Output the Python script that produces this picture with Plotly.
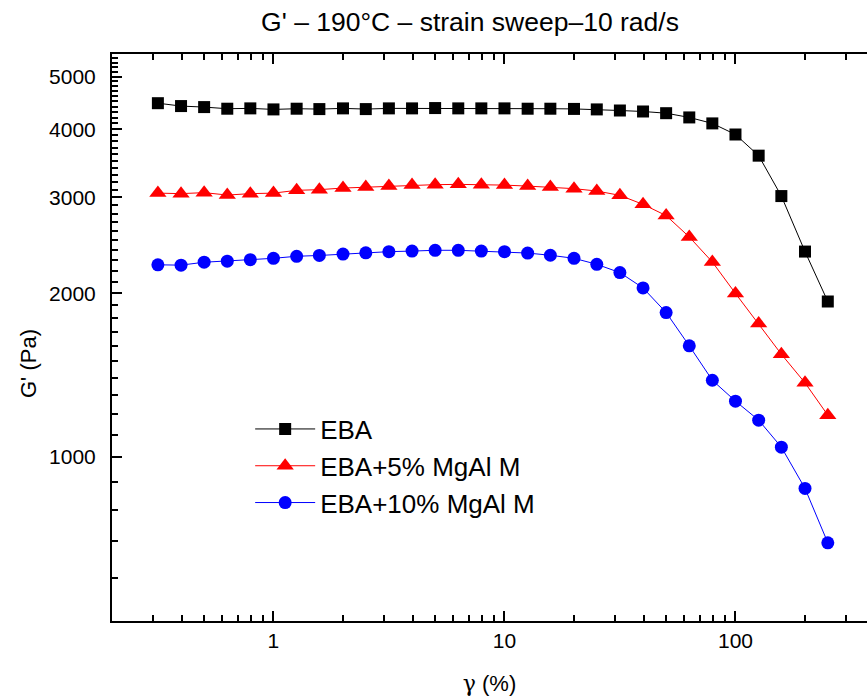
import math
import plotly.graph_objects as go

# strain amplitude (%)
strain = [0.316, 0.398, 0.501, 0.631, 0.794, 1.0, 1.26, 1.58, 2.0, 2.51,
          3.16, 3.98, 5.01, 6.31, 7.94, 10.0, 12.6, 15.8, 20.0, 25.1,
          31.6, 39.8, 50.1, 63.1, 79.4, 100.0, 126.0, 158.0, 200.0, 251.0]

# G' (Pa)
eba = [4467, 4413, 4394, 4364, 4370, 4351, 4364, 4357, 4370, 4357,
       4370, 4370, 4376, 4370, 4370, 4370, 4364, 4364, 4360, 4351,
       4331, 4313, 4282, 4206, 4101, 3913, 3578, 3016, 2385, 1931]
eba_5 = [3054, 3047, 3060, 3029, 3047, 3054, 3090, 3099, 3120, 3133,
         3146, 3159, 3165, 3169, 3165, 3159, 3146, 3133, 3112, 3081,
         3025, 2912, 2777, 2537, 2282, 1998, 1759, 1545, 1369, 1194]
eba_10 = [2255, 2252, 2280, 2290, 2305, 2318, 2338, 2346, 2360, 2372,
          2384, 2390, 2398, 2398, 2390, 2384, 2370, 2348, 2318, 2260,
          2182, 2045, 1843, 1601, 1384, 1267, 1169, 1043, 876, 696]

series_names = ["EBA", "EBA+5% MgAl M", "EBA+10% MgAl M"]

x_ticks = [1, 10, 100]
x_minor = [0.2, 0.3, 0.4, 0.5, 0.6, 0.7, 0.8, 0.9,
           2, 3, 4, 5, 6, 7, 8, 9,
           20, 30, 40, 50, 60, 70, 80, 90, 200, 300]
y_ticks = [1000, 2000, 3000, 4000, 5000]
y_minor = [v for v in range(600, 5500, 100) if v % 1000 != 0]

FONT = "Arial, 'Liberation Sans', sans-serif"
FIG_W, FIG_H = 867, 700
Y_RANGE = [math.log10(500), math.log10(5500)]

fig = go.Figure()
styles = [
    dict(color="#000000", symbol="square", size=12),
    dict(color="#FF0000", symbol="triangle-up", size=15),
    dict(color="#0000FF", symbol="circle", size=13),
]
for name, ys, st in zip(series_names, [eba, eba_5, eba_10], styles):
    fig.add_trace(go.Scatter(
        x=strain, y=ys, name=name, mode="lines+markers",
        line=dict(color=st["color"], width=1),
        marker=dict(color=st["color"], symbol=st["symbol"], size=st["size"],
                    line=dict(width=0)),
    ))

axis_common = dict(
    type="log", showgrid=False, zeroline=False,
    showline=True, linecolor="black", linewidth=2,
    ticks="inside", ticklen=10, tickwidth=2, tickcolor="black",
    tickfont=dict(family=FONT, size=21, color="black"),
)

fig.update_layout(
    width=FIG_W, height=FIG_H,
    margin=dict(l=112, r=0, t=54, b=79),
    paper_bgcolor="white", plot_bgcolor="white",
    font=dict(family=FONT, color="black"),
    title=dict(text="G' \u2013 190\u00b0C \u2013 strain sweep\u201310 rad/s",
               font=dict(family=FONT, size=26.5, color="black"),
               x=470 / FIG_W, xanchor="center", xref="container",
               y=1 - 22 / FIG_H, yanchor="middle", yref="container"),
    xaxis=dict(axis_common, mirror="allticks",
               range=[math.log10(0.2), math.log10(371)],
               tickmode="array", tickvals=x_ticks, ticktext=[str(v) for v in x_ticks],
               minor=dict(tickmode="array", tickvals=x_minor, ticks="inside",
                          ticklen=6, tickwidth=2, tickcolor="black"),
               title=dict(text="<span style='font-family:\"DejaVu Serif\", serif'>\u03b3</span> (%)",
                          font=dict(family=FONT, size=22, color="black"), standoff=24)),
    yaxis=dict(axis_common, mirror=False,
               range=Y_RANGE,
               tickmode="array", tickvals=y_ticks, ticktext=[str(v) for v in y_ticks],
               minor=dict(tickmode="array", tickvals=y_minor, ticks="inside",
                          ticklen=6, tickwidth=2, tickcolor="black"),
               ticklabelstandoff=10),
    # right frame of the original lies just past the window edge: only tick stubs show
    yaxis2=dict(type="log", overlaying="y", side="right", anchor="x",
                range=Y_RANGE, showline=False, showgrid=False, zeroline=False,
                tickmode="array", tickvals=y_ticks, ticks="inside", ticklen=4,
                tickwidth=2, tickcolor="black", showticklabels=False),
    legend=dict(x=0.183, y=0.380, xanchor="left", yanchor="top",
                bgcolor="rgba(0,0,0,0)", borderwidth=0,
                font=dict(family=FONT, size=26, color="black"),
                itemwidth=60, tracegroupgap=0),
    showlegend=True,
    annotations=[dict(text="G' (Pa)", textangle=-90, showarrow=False,
                      xref="paper", yref="paper",
                      x=-(112 - 28) / 755, y=(621 - 364) / 567,
                      xanchor="center", yanchor="middle",
                      font=dict(family=FONT, size=22, color="black"))],
)

fig.write_html(
    "out.html",
    config={"displayModeBar": False},
    post_script="document.body.style.margin='0px';document.body.style.overflow='hidden';",
)
